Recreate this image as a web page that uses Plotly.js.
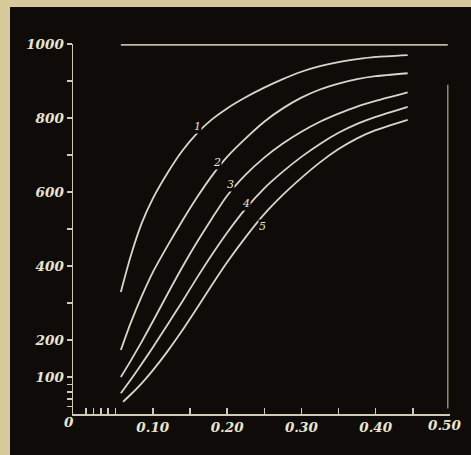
<!DOCTYPE html>
<html>
<head>
<meta charset="utf-8">
<script src="https://cdn.plot.ly/plotly-3.0.1.min.js"></script>
<style>
  html, body { margin: 0; padding: 0; background: #d8c99a; width: 471px; height: 455px; overflow: hidden; }
  #chart { position: absolute; left: 10px; top: 7px; width: 461px; height: 448px; }
</style>
</head>
<body>
<div id="chart"></div>
<script>
// Curve data (x = abscissa, y = ordinate)
const x1 = [0.057, 0.07, 0.085, 0.10, 0.12, 0.14, 0.16, 0.18, 0.20, 0.225, 0.25, 0.275, 0.30, 0.325, 0.35, 0.375, 0.40, 0.443];
const y1 = [330, 425, 515, 582, 652, 712, 760, 797, 826, 856, 882, 905, 925, 940, 951, 959, 965, 970];

const x2 = [0.057, 0.07, 0.085, 0.10, 0.12, 0.14, 0.16, 0.18, 0.20, 0.225, 0.25, 0.275, 0.30, 0.325, 0.35, 0.375, 0.40, 0.443];
const y2 = [173, 245, 318, 383, 455, 523, 587, 645, 695, 745, 790, 826, 855, 877, 893, 905, 913, 921];

const x3 = [0.057, 0.07, 0.085, 0.10, 0.12, 0.14, 0.16, 0.18, 0.20, 0.225, 0.25, 0.275, 0.30, 0.325, 0.35, 0.375, 0.40, 0.443];
const y3 = [100, 143, 195, 250, 325, 398, 466, 530, 590, 647, 693, 731, 763, 790, 812, 831, 846, 869];

const x4 = [0.057, 0.07, 0.085, 0.10, 0.12, 0.14, 0.16, 0.18, 0.20, 0.225, 0.25, 0.275, 0.30, 0.325, 0.35, 0.375, 0.40, 0.443];
const y4 = [56, 92, 135, 180, 242, 305, 370, 432, 490, 555, 610, 655, 695, 730, 760, 784, 803, 830];

const x5 = [0.06, 0.07, 0.085, 0.10, 0.12, 0.14, 0.16, 0.18, 0.20, 0.225, 0.25, 0.275, 0.30, 0.325, 0.35, 0.375, 0.40, 0.443];
const y5 = [33, 52, 83, 118, 170, 227, 288, 350, 410, 478, 540, 592, 638, 680, 716, 745, 767, 795];

const curveNames = ['1', '2', '3', '4', '5'];
const labelX = [0.160, 0.187, 0.205, 0.225, 0.247];
const labelY = [776, 681, 620, 570, 508];

const yTickVals = [20, 40, 60, 80, 100, 200, 300, 400, 500, 600, 700, 800, 900, 1000];
const yTickText = ['', '', '', '', '100', '200', '', '400', '', '600', '', '800', '', '1000'];
const xTickVals = [0.01, 0.02, 0.03, 0.04, 0.05, 0.10, 0.15, 0.20, 0.25, 0.30, 0.35, 0.40, 0.45];
const xTickText = ['', '', '', '', '', '0.10', '', '0.20', '', '0.30', '', '0.40', ''];

const lineColor = '#d9d6c8';
const textColor = '#e8e4d0';
const tickFont = { family: 'DejaVu Serif', size: 13.5, color: textColor, style: 'italic', weight: 'bold' };

const xs = [x1, x2, x3, x4, x5];
const ys = [y1, y2, y3, y4, y5];
const traces = xs.map((xv, i) => ({
  x: xv, y: ys[i], type: 'scatter', mode: 'lines', name: curveNames[i],
  line: { color: lineColor, width: 1.8, shape: 'spline', smoothing: 0.6 },
  hoverinfo: 'skip'
}));

const annotations = curveNames.map((t, i) => ({
  x: labelX[i], y: labelY[i], xref: 'x', yref: 'y', text: t, showarrow: false,
  font: { family: 'DejaVu Serif', size: 11, color: textColor, style: 'italic' },
  bgcolor: '#0e0b08', borderpad: 0
}));
annotations.push({
  x: -0.011, y: -0.022, xref: 'paper', yref: 'paper', text: '0', showarrow: false,
  xanchor: 'center', yanchor: 'middle', font: tickFont
});
annotations.push({
  x: 0.4925, y: -0.03, xref: 'x', yref: 'paper', text: '0.50', showarrow: false,
  xanchor: 'center', yanchor: 'middle', font: tickFont
});

const layout = {
  width: 461, height: 448,
  margin: { l: 63, r: 21, t: 37, b: 41 },
  paper_bgcolor: '#0e0b08',
  plot_bgcolor: '#0e0b08',
  showlegend: false,
  xaxis: {
    range: [-0.0074, 0.5], showgrid: false, zeroline: false,
    showline: true, linecolor: '#cfcab8', linewidth: 1.5,
    ticks: 'inside', ticklen: 6, tickwidth: 1.5, tickcolor: '#cfcab8',
    tickmode: 'array', tickvals: xTickVals, ticktext: xTickText,
    tickfont: tickFont
  },
  yaxis: {
    range: [0, 1000], showgrid: false, zeroline: false,
    showline: true, linecolor: '#cfcab8', linewidth: 1.5,
    ticks: 'outside', ticklen: 5, tickwidth: 1.5, tickcolor: '#cfcab8',
    tickmode: 'array', tickvals: yTickVals, ticktext: yTickText,
    tickfont: tickFont
  },
  shapes: [
    { type: 'line', xref: 'x', yref: 'y', x0: 0.057, x1: 0.497, y0: 998, y1: 998,
      line: { color: '#bdb8a8', width: 2 } },
    { type: 'line', xref: 'x', yref: 'y', x0: 0.497, x1: 0.497, y0: 890, y1: 15,
      line: { color: '#8f8a7c', width: 1.5 } }
  ],
  annotations: annotations
};

Plotly.newPlot('chart', traces, layout, { staticPlot: true, displayModeBar: false });
</script>
</body>
</html>
